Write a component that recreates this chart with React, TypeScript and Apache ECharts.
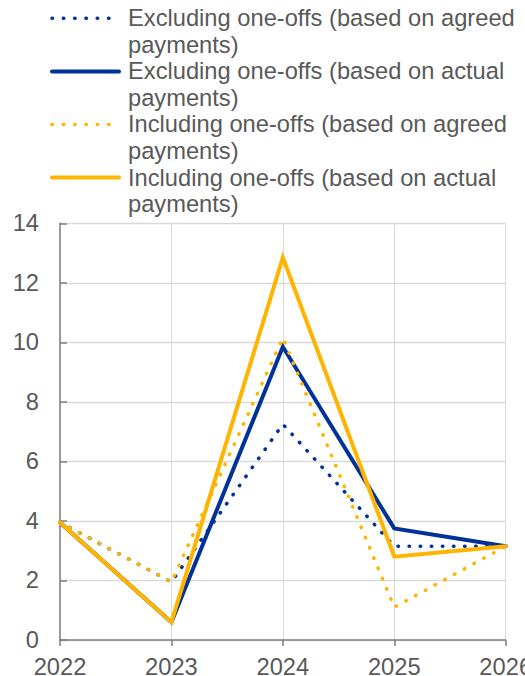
import React, { useEffect, useRef } from "react";
import * as echarts from "echarts";

const years = ["2022", "2023", "2024", "2025", "2026"];
const exclAgreed = [3.95, 1.95, 7.25, 3.15, 3.15];
const exclActual = [3.95, 0.6, 9.85, 3.75, 3.15];
const inclAgreed = [3.95, 1.95, 10.15, 1.1, 3.15];
const inclActual = [3.95, 0.6, 12.85, 2.8, 3.15];
const seriesNames = [
  "Excluding one-offs (based on agreed\npayments)",
  "Excluding one-offs (based on actual\npayments)",
  "Including one-offs (based on agreed\npayments)",
  "Including one-offs (based on actual\npayments)",
];
const yTicks = { min: 0, max: 14, interval: 2 };

const BLUE = "#003299";
const YELLOW = "#FFB400";
const TEXT = "#595959";
const FONT = "'Liberation Sans', Arial, sans-serif";
const FS = 23.7;

export default function App() {
  const ref = useRef<HTMLDivElement>(null);
  useEffect(() => {
    document.body.style.margin = "0";
    if (!ref.current) return;
    const chart = echarts.init(ref.current, undefined, { renderer: "svg" });
    const data = [exclAgreed, exclActual, inclAgreed, inclActual];
    const colors = [BLUE, BLUE, YELLOW, YELLOW];
    const dotted = [true, false, true, false];
    const dotType = [0.5, 10.6];

    const legendGraphics: any[] = [];
    seriesNames.forEach((name, i) => {
      const cy = 18.3 + i * 53.1;
      legendGraphics.push({
        type: "line",
        shape: { x1: 52, y1: cy, x2: 119, y2: cy },
        style: {
          stroke: colors[i],
          lineWidth: dotted[i] ? 3.5 : 4,
          lineCap: "round",
          lineDash: dotted[i] ? [0.5, 10.8] : null,
        },
      });
      legendGraphics.push({
        type: "text",
        x: 128,
        y: cy - 13.3,
        style: {
          text: name,
          fill: TEXT,
          fontSize: FS,
          fontFamily: FONT,
          lineHeight: 26.6,
          verticalAlign: "top",
          align: "left",
        },
      });
    });

    chart.setOption({
      animation: false,
      textStyle: { fontFamily: FONT },
      grid: {
        left: 60,
        right: 19.3,
        top: 223.3,
        bottom: 36,
        containLabel: false,
        outerBoundsMode: "none",
      },
      xAxis: {
        type: "category",
        data: years,
        boundaryGap: false,
        axisLine: { lineStyle: { color: "#7f7f7f", width: 1.5 } },
        axisTick: { show: true, length: 6, lineStyle: { color: "#7f7f7f", width: 1.5 } },
        axisLabel: { color: TEXT, fontSize: FS, margin: 15, fontFamily: FONT },
        splitLine: { show: true, lineStyle: { color: "#d9d9d9", width: 1 } },
      },
      yAxis: {
        type: "value",
        min: yTicks.min,
        max: yTicks.max,
        interval: yTicks.interval,
        axisLine: { show: true, lineStyle: { color: "#7f7f7f", width: 1.5 } },
        axisTick: { show: true, inside: true, length: 7, lineStyle: { color: "#7f7f7f", width: 1.5 } },
        axisLabel: { color: TEXT, fontSize: FS, margin: 21, fontFamily: FONT },
        splitLine: { show: true, lineStyle: { color: "#d9d9d9", width: 1.3 } },
      },
      series: data.map((d, i) => ({
        name: seriesNames[i],
        type: "line",
        data: d,
        symbol: "none",
        z: 2 + i,
        lineStyle: {
          color: colors[i],
          width: dotted[i] ? 3.5 : 4,
          type: dotted[i] ? dotType : "solid",
          cap: "round",
          join: "miter",
        },
      })),
      graphic: legendGraphics,
    });
    return () => chart.dispose();
  }, []);
  return <div ref={ref} style={{ width: 525, height: 676 }} />;
}
